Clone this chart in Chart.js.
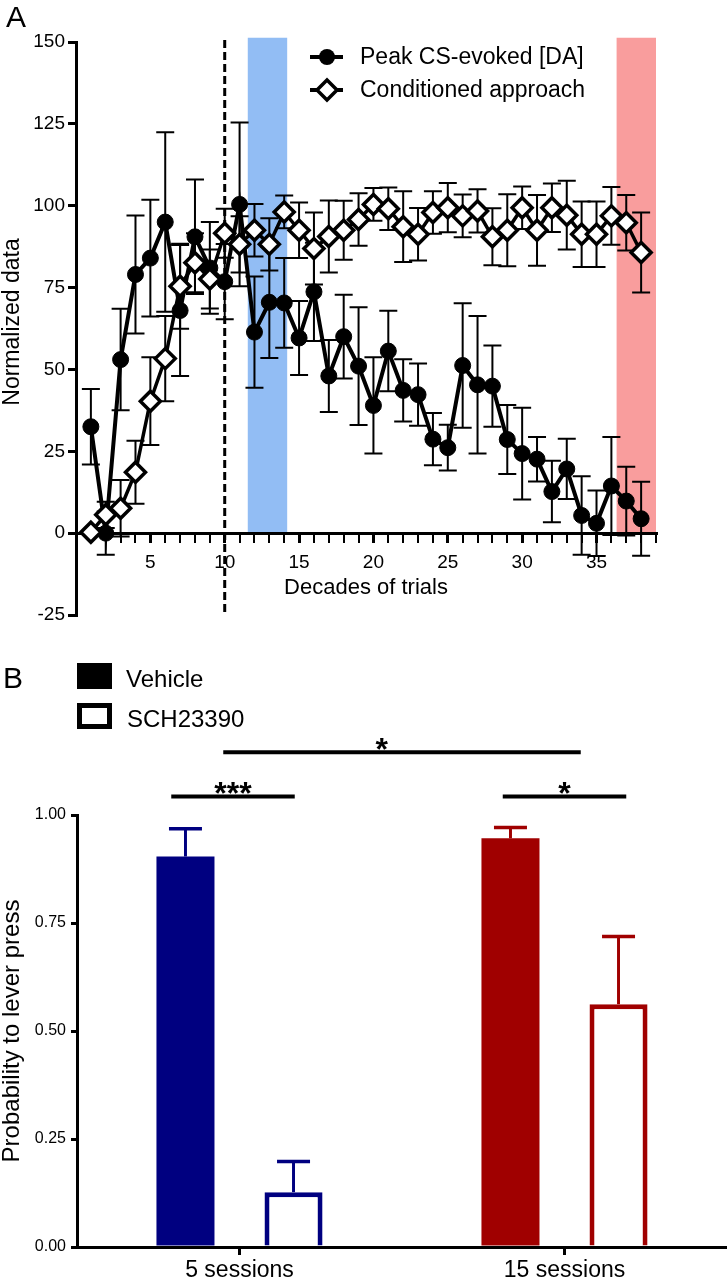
<!DOCTYPE html>
<html lang="en">
<head>
<meta charset="UTF-8">
<title>Peak CS-evoked DA and lever press</title>
<script src="https://cdn.jsdelivr.net/npm/chart.js"></script>
<style>
    body { margin: 0; background: #fff; width: 727px; height: 1280px; overflow: hidden; position: relative; }
    canvas { position: absolute; left: 0; }
    #chartA { top: 0; }
    #chartB { top: 640px; }
</style>
</head>
<body>
<canvas id="chartA" width="727" height="640"></canvas>
<canvas id="chartB" width="727" height="640"></canvas>
<script>
// ---- panel A data ----
const decades = [1, 2, 3, 4, 5, 6, 7, 8, 9, 10, 11, 12, 13, 14, 15, 16, 17, 18, 19, 20,
                 21, 22, 23, 24, 25, 26, 27, 28, 29, 30, 31, 32, 33, 34, 35, 36, 37, 38];
const daMean = [32.5, 0, 53, 79, 84, 95, 68, 90.5, 81, 76.8, 100.4, 61.4, 70.5, 70.3, 59.6, 73.7, 48, 60, 51, 39,
                55.6, 43.6, 42.3, 28.7, 26.1, 51.2, 45.3, 44.9, 28.6, 24.3, 22.6, 12.7, 19.6, 5.4, 3, 14.4, 9.8, 4.4];
const daSem = [11.5, 6.6, 15.5, 18, 17.8, 27.4, 20, 17.5, 14, 11.5, 25, 17, 17, 13.7, 11.3, 15, 11, 12.8, 18, 14.7,
               12.3, 9.5, 9.5, 8, 7, 19, 21, 12.4, 10.5, 14, 6.8, 9.4, 9.2, 12, 10, 15, 10.5, 11.3];
const approachMean = [0.3, 5.6, 7.6, 18.6, 40.3, 53.3, 75.4, 82.6, 77.6, 91.6, 88.2, 92.5, 88.2, 98.1, 92.5, 86.9, 90.6, 92.5, 95.8, 100.4,
                      99.1, 93.6, 91.3, 97.9, 99.4, 96.9, 98.4, 90.5, 92.5, 99.4, 92.5, 99.4, 97.1, 91.3, 91.3, 96.9, 94.8, 85.7];
const approachSem = [0, 4, 8.6, 9.6, 13.4, 13, 13, 9, 9, 7.5, 8.6, 8, 8, 5, 8.5, 11, 11, 9, 8, 5,
                     6.5, 10.8, 8, 6.5, 7.5, 6.5, 6.6, 8.7, 11, 6.5, 10.8, 7.4, 10.5, 10, 10, 8.8, 8.5, 12.2];
const labeledDecades = [5, 10, 15, 20, 25, 30, 35];
const blueBand = [11.55, 14.2];
const redBand = [36.35, 39];
const bandTop = 151.3;
const dividerAt = 10;

// ---- panel B data ----
const sessions = ['5 sessions', '15 sessions'];
const vehicleMean = [0.904, 0.946];
const vehicleSem = [0.064, 0.025];
const schMean = [0.127, 0.562];
const schSem = [0.071, 0.157];
const sigBrackets = [
    { from: -0.21, to: 0.17, level: 1.043, text: '***', at: -0.02 },
    { from: 0.81, to: 1.19, level: 1.043, text: '*', at: 1.0 },
    { from: -0.05, to: 1.05, level: 1.145, text: '*', at: 0.438 }
];

const groupColors = ['#000080', '#a00000'];
const FONT = '"Liberation Sans", Arial, Helvetica, sans-serif';
Chart.defaults.font.family = FONT;
Chart.defaults.color = '#000';

const panelA = {
    id: 'panelA',
    beforeDraw(chart) {
        const { ctx, scales: { x, y } } = chart;
        ctx.save();
        [[blueBand, '#92bdf4'], [redBand, '#f99d9d']].forEach(([r, col]) => {
            const x0 = x.getPixelForValue(r[0]);
            const x1 = x.getPixelForValue(r[1]);
            const top = y.getPixelForValue(bandTop);
            const bottom = y.getPixelForValue(0) - 1;
            ctx.fillStyle = col;
            ctx.fillRect(x0, top, x1 - x0, bottom - top);
        });
        // dashed divider
        const xd = x.getPixelForValue(dividerAt);
        ctx.strokeStyle = '#000';
        ctx.lineWidth = 3;
        ctx.setLineDash([8, 4]);
        ctx.beginPath();
        ctx.moveTo(xd, y.getPixelForValue(150.6));
        ctx.lineTo(xd, y.getPixelForValue(-25));
        ctx.stroke();
        ctx.restore();
    },
    beforeDatasetsDraw(chart) {
        const { ctx, scales: { x, y } } = chart;
        ctx.save();
        ctx.strokeStyle = '#000';
        ctx.lineWidth = 2;
        [[daMean, daSem], [approachMean, approachSem]].forEach(([m, s]) => {
            decades.forEach((d, i) => {
                if (!s[i]) return;
                const px = x.getPixelForValue(d);
                const hi = y.getPixelForValue(m[i] + s[i]);
                const lo = y.getPixelForValue(m[i] - s[i]);
                ctx.beginPath();
                ctx.moveTo(px, hi); ctx.lineTo(px, lo);
                ctx.moveTo(px - 9, hi); ctx.lineTo(px + 9, hi);
                ctx.moveTo(px - 9, lo); ctx.lineTo(px + 9, lo);
                ctx.stroke();
            });
        });
        ctx.restore();
    },
    afterDraw(chart) {
        const { ctx, chartArea } = chart;
        ctx.save();
        ctx.fillStyle = '#000';
        ctx.font = '30px ' + FONT;
        ctx.textAlign = 'left';
        ctx.textBaseline = 'alphabetic';
        ctx.fillText('A', 6, 27);

        // axis titles
        ctx.font = '22px ' + FONT;
        ctx.textAlign = 'center';
        ctx.fillText('Decades of trials', (chartArea.left + chartArea.right) / 2, 594);
        ctx.save();
        ctx.translate(19, 322);
        ctx.rotate(-Math.PI / 2);
        ctx.font = '23px ' + FONT;
        ctx.fillText('Normalized data', 0, 0);
        ctx.restore();

        // legend
        const rows = [
            { label: chart.data.datasets[0].label, y: 57, base: 64, marker: 'circle' },
            { label: chart.data.datasets[1].label, y: 90, base: 97, marker: 'diamond' }
        ];
        rows.forEach(r => {
            ctx.strokeStyle = '#000';
            ctx.lineWidth = 4;
            ctx.beginPath();
            ctx.moveTo(310, r.y); ctx.lineTo(343, r.y);
            ctx.stroke();
            ctx.beginPath();
            if (r.marker === 'circle') {
                ctx.arc(327, r.y, 8, 0, Math.PI * 2);
                ctx.fillStyle = '#000';
                ctx.fill();
            } else {
                ctx.moveTo(327 - 10, r.y); ctx.lineTo(327, r.y - 10);
                ctx.lineTo(327 + 10, r.y); ctx.lineTo(327, r.y + 10);
                ctx.closePath();
                ctx.fillStyle = '#fff';
                ctx.fill();
                ctx.lineWidth = 3.5;
                ctx.stroke();
            }
            ctx.fillStyle = '#000';
            ctx.font = '23px ' + FONT;
            ctx.textAlign = 'left';
            ctx.fillText(r.label, 360, r.base);
        });
        ctx.restore();
    }
};

const chartA = new Chart(document.getElementById('chartA'), {
    type: 'line',
    data: {
        datasets: [
            {
                label: 'Peak CS-evoked [DA]',
                data: decades.map((d, i) => ({ x: d, y: daMean[i] })),
                borderColor: '#000',
                borderWidth: 4,
                pointStyle: 'circle',
                pointRadius: 8,
                pointBackgroundColor: '#000',
                pointBorderColor: '#000',
                pointBorderWidth: 1,
                order: 2
            },
            {
                label: 'Conditioned approach',
                data: decades.map((d, i) => ({ x: d, y: approachMean[i] })),
                borderColor: '#000',
                borderWidth: 3.5,
                pointStyle: 'rectRot',
                pointRadius: 10,
                pointBackgroundColor: '#fff',
                pointBorderColor: '#000',
                pointBorderWidth: 3.5,
                order: 1
            }
        ]
    },
    options: {
        responsive: false,
        animation: false,
        layout: { padding: { left: 0, top: 42, right: 71, bottom: 25 } },
        elements: { line: { tension: 0 } },
        plugins: { legend: { display: false }, tooltip: { enabled: false } },
        scales: {
            x: {
                type: 'linear',
                min: 0,
                max: 39,
                position: { y: 0 },
                border: { color: '#000', width: 3 },
                grid: {
                    drawOnChartArea: false,
                    color: '#000',
                    tickLength: 8,
                    lineWidth: c => (c.tick && c.tick.value % 5 === 0) ? 3 : 2
                },
                ticks: {
                    stepSize: 1,
                    autoSkip: false,
                    maxRotation: 0,
                    padding: 10,
                    font: { size: 19 },
                    callback: v => labeledDecades.includes(v) ? String(v) : ''
                }
            },
            y: {
                min: -25,
                max: 150,
                border: { color: '#000', width: 3 },
                grid: { drawOnChartArea: false, color: '#000', tickLength: 8, lineWidth: 3 },
                ticks: { stepSize: 25, padding: 3, font: { size: 19 } },
                afterFit: s => { s.width = 76; }
            }
        }
    },
    plugins: [panelA]
});

const panelB = {
    id: 'panelB',
    afterDatasetsDraw(chart) {
        const { ctx, scales: { y } } = chart;
        const sems = [vehicleSem, schSem];
        const means = [vehicleMean, schMean];
        ctx.save();
        chart.data.datasets.forEach((ds, di) => {
            const meta = chart.getDatasetMeta(di);
            meta.data.forEach((bar, i) => {
                const top = y.getPixelForValue(means[di][i]);
                const hi = y.getPixelForValue(means[di][i] + sems[di][i]);
                ctx.strokeStyle = groupColors[i];
                ctx.lineWidth = 3;
                ctx.beginPath();
                ctx.moveTo(bar.x, top); ctx.lineTo(bar.x, hi);
                ctx.stroke();
                ctx.lineWidth = 3.5;
                ctx.beginPath();
                ctx.moveTo(bar.x - 16.5, hi); ctx.lineTo(bar.x + 16.5, hi);
                ctx.stroke();
            });
        });
        ctx.restore();
    },
    afterDraw(chart) {
        const { ctx, chartArea, scales: { x, y } } = chart;
        ctx.save();
        ctx.fillStyle = '#000';
        ctx.textBaseline = 'alphabetic';
        ctx.textAlign = 'left';
        ctx.font = '30px ' + FONT;
        ctx.fillText('B', 3, 48);

        // legend
        ctx.fillRect(77, 23, 35, 26);
        ctx.strokeStyle = '#000';
        ctx.lineWidth = 5;
        ctx.strokeRect(79.5, 65.5, 30, 21);
        ctx.font = '24px ' + FONT;
        ctx.fillText(chart.data.datasets[0].label, 126, 47);
        ctx.fillText(chart.data.datasets[1].label, 127, 87);

        // significance bars
        sigBrackets.forEach(b => {
            const yy = y.getPixelForValue(b.level);
            ctx.lineWidth = 4;
            ctx.beginPath();
            ctx.moveTo(x.getPixelForValue(b.from), yy);
            ctx.lineTo(x.getPixelForValue(b.to), yy);
            ctx.stroke();
            ctx.font = 'bold 32px ' + FONT;
            ctx.textAlign = 'center';
            ctx.fillText(b.text, x.getPixelForValue(b.at), yy + 8);
        });

        // y title
        ctx.save();
        ctx.translate(19, (chartArea.top + chartArea.bottom) / 2);
        ctx.rotate(-Math.PI / 2);
        ctx.font = '24px ' + FONT;
        ctx.textAlign = 'center';
        ctx.fillText('Probability to lever press', 0, 0);
        ctx.restore();
        ctx.restore();
    }
};

const chartB = new Chart(document.getElementById('chartB'), {
    type: 'bar',
    data: {
        labels: sessions,
        datasets: [
            {
                label: 'Vehicle',
                data: vehicleMean,
                backgroundColor: groupColors,
                borderWidth: 0,
                categoryPercentage: 0.665,
                barPercentage: 0.537
            },
            {
                label: 'SCH23390',
                data: schMean,
                backgroundColor: '#fff',
                borderColor: groupColors,
                borderWidth: 5,
                categoryPercentage: 0.665,
                barPercentage: 0.537
            }
        ]
    },
    options: {
        responsive: false,
        animation: false,
        layout: { padding: { left: 0, top: 175, right: 0, bottom: 0 } },
        plugins: { legend: { display: false }, tooltip: { enabled: false } },
        scales: {
            x: {
                border: { color: '#000', width: 3 },
                grid: { drawOnChartArea: false, offset: false, color: '#000', tickLength: 8, lineWidth: 3 },
                ticks: { font: { size: 23 }, padding: 2, maxRotation: 0 },
                afterFit: s => { s.height = 33; }
            },
            y: {
                min: 0,
                max: 1,
                border: { color: '#000', width: 3 },
                grid: { drawOnChartArea: false, color: '#000', tickLength: 6, lineWidth: 3 },
                ticks: { stepSize: 0.25, padding: 5, font: { size: 16 }, callback: v => v.toFixed(2) },
                afterFit: s => { s.width = 77; }
            }
        }
    },
    plugins: [panelB]
});
</script>
</body>
</html>
